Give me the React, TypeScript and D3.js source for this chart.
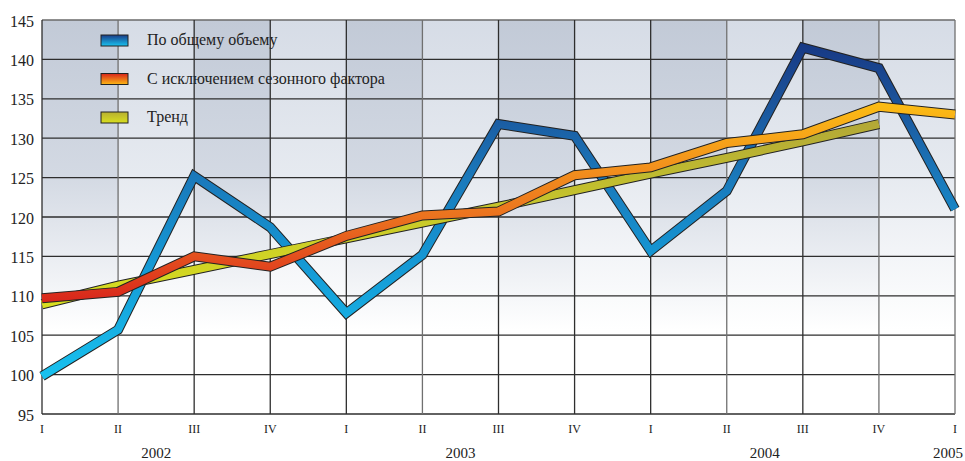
import React from 'react';
import * as d3 from 'd3';

const quarterLabels = ['I', 'II', 'III', 'IV', 'I', 'II', 'III', 'IV', 'I', 'II', 'III', 'IV', 'I'];
const yearLabels = ['2002', '2003', '2004', '2005'];
const yearPositions = [1.5, 5.5, 9.5, 12];
const yTicks = [95, 100, 105, 110, 115, 120, 125, 130, 135, 140, 145];

const totalVolume = [99.8, 105.7, 125.2, 118.7, 107.8, 115.2, 131.8, 130.3, 115.7, 123.3, 141.5, 138.9, 121.0];
const seasonAdjusted = [109.7, 110.5, 115.0, 113.7, 117.6, 120.2, 120.7, 125.3, 126.3, 129.4, 130.5, 134.0, 133.0];
const trend = [108.9, 111.3, 113.3, 115.3, 117.3, 119.3, 121.3, 123.4, 125.5, 127.5, 129.6, 131.8];

const seriesNames = ['По общему объему', 'С исключением сезонного фактора', 'Тренд'];

const W = 965, H = 461;
const L = 42, R = 955, T = 20, B = 414;

export default function App() {
  const x = d3.scaleLinear().domain([0, 12]).range([L, R]);
  const y = d3.scaleLinear().domain([95, 145]).range([B, T]);
  const line = d3.line<number>().x((_, i) => x(i)).y(d => y(d)).curve(d3.curveLinear);

  const cols = d3.range(12);
  const serif = 'Liberation Serif, Times New Roman, Times, serif';

  const series = [
    { data: totalVolume, grad: 'gBlue' },
    { data: trend, grad: 'gTrend' },
    { data: seasonAdjusted, grad: 'gOrange' },
  ];

  const legendGrads = ['lgBlue', 'lgOrange', 'lgTrend'];

  return (
    <svg width={W} height={H} viewBox={`0 0 ${W} ${H}`} style={{ position: 'absolute', left: 0, top: 0, background: '#fff', fontFamily: serif }}>
      <defs>
        <linearGradient id="bgDark" gradientUnits="userSpaceOnUse" x1="0" y1={T} x2="0" y2={330}>
          <stop offset="0" stopColor="#c2cad7" />
          <stop offset="0.5" stopColor="#d3d9e3" />
          <stop offset="1" stopColor="#ffffff" />
        </linearGradient>
        <linearGradient id="bgLight" gradientUnits="userSpaceOnUse" x1="0" y1={T} x2="0" y2={330}>
          <stop offset="0" stopColor="#d6dce6" />
          <stop offset="0.5" stopColor="#e6eaf0" />
          <stop offset="1" stopColor="#ffffff" />
        </linearGradient>
        <linearGradient id="gBlue" gradientUnits="userSpaceOnUse" x1="0" y1={B} x2="0" y2={T}>
          <stop offset="0.08" stopColor="#18c3f0" />
          <stop offset="0.4" stopColor="#1596d3" />
          <stop offset="0.6" stopColor="#1a79bb" />
          <stop offset="0.8" stopColor="#1b5299" />
          <stop offset="0.95" stopColor="#173783" />
        </linearGradient>
        <linearGradient id="gOrange" gradientUnits="userSpaceOnUse" x1="0" y1={B} x2="0" y2={T}>
          <stop offset="0.28" stopColor="#d8241b" />
          <stop offset="0.38" stopColor="#e2481e" />
          <stop offset="0.5" stopColor="#eb721f" />
          <stop offset="0.62" stopColor="#f28f1d" />
          <stop offset="0.78" stopColor="#fbba15" />
        </linearGradient>
        <linearGradient id="gTrend" gradientUnits="userSpaceOnUse" x1="0" y1={B} x2="0" y2={T}>
          <stop offset="0.28" stopColor="#d8de1f" />
          <stop offset="0.5" stopColor="#c9c92a" />
          <stop offset="0.75" stopColor="#b2a737" />
        </linearGradient>
        <linearGradient id="lgBlue" x1="0" y1="0" x2="0" y2="1">
          <stop offset="0" stopColor="#1a3c88" />
          <stop offset="1" stopColor="#18c3f0" />
        </linearGradient>
        <linearGradient id="lgOrange" x1="0" y1="0" x2="0" y2="1">
          <stop offset="0" stopColor="#d8241b" />
          <stop offset="1" stopColor="#fbb915" />
        </linearGradient>
        <linearGradient id="lgTrend" x1="0" y1="0" x2="0" y2="1">
          <stop offset="0" stopColor="#b8b030" />
          <stop offset="1" stopColor="#d8de1f" />
        </linearGradient>
      </defs>

      {cols.map(i => (
        <rect key={'c' + i} x={x(i)} y={T} width={x(i + 1) - x(i)} height={B - T}
          fill={i % 2 === 0 ? 'url(#bgDark)' : 'url(#bgLight)'} />
      ))}

      {yTicks.map(v => (
        <line key={'h' + v} x1={L} x2={R} y1={y(v)} y2={y(v)}
          stroke={v === 145 ? '#6a6a6a' : '#2e2e2e'} strokeWidth={1.3} />
      ))}
      {quarterLabels.map((_, i) => (
        <line key={'v' + i} x1={x(i)} x2={x(i)} y1={T} y2={B}
          stroke={i === 0 ? '#2e2e2e' : (i % 4 === 1 || i === 11 || i === 12) ? '#707070' : '#2e2e2e'} strokeWidth={1.3} />
      ))}

      {series.map(s => (
        <g key={s.grad}>
          <path d={line(s.data) || ''} fill="none" stroke="#222" strokeWidth={10} strokeLinejoin="miter" strokeMiterlimit={10} />
          <path d={line(s.data) || ''} fill="none" stroke={`url(#${s.grad})`} strokeWidth={8} strokeLinejoin="miter" strokeMiterlimit={10} />
        </g>
      ))}

      {yTicks.map(v => (
        <text key={'yl' + v} x={34} y={y(v) + 1} textAnchor="end" dominantBaseline="central"
          fontFamily={serif} fontSize={16} fill="#222">{v}</text>
      ))}

      {quarterLabels.map((q, i) => (
        <text key={'xl' + i} x={x(i)} y={433} textAnchor="middle"
          fontFamily={serif} fontSize={12} fill="#222">{q}</text>
      ))}
      {yearLabels.map((yl, i) => (
        <text key={'yr' + yl} x={i === yearLabels.length - 1 ? 963 : x(yearPositions[i])} y={458}
          textAnchor={i === yearLabels.length - 1 ? 'end' : 'middle'}
          fontFamily={serif} fontSize={15} fill="#222">{yl}</text>
      ))}

      {seriesNames.map((name, i) => (
        <g key={'lg' + i} transform={`translate(101, ${35 + i * 38.5})`}>
          <rect x={0} y={0} width={27} height={11} fill={`url(#${legendGrads[i]})`} stroke="#222" strokeWidth={1} />
          <text x={46} y={10} fontFamily={serif} fontSize={16} fill="#222">{name}</text>
        </g>
      ))}
    </svg>
  );
}
